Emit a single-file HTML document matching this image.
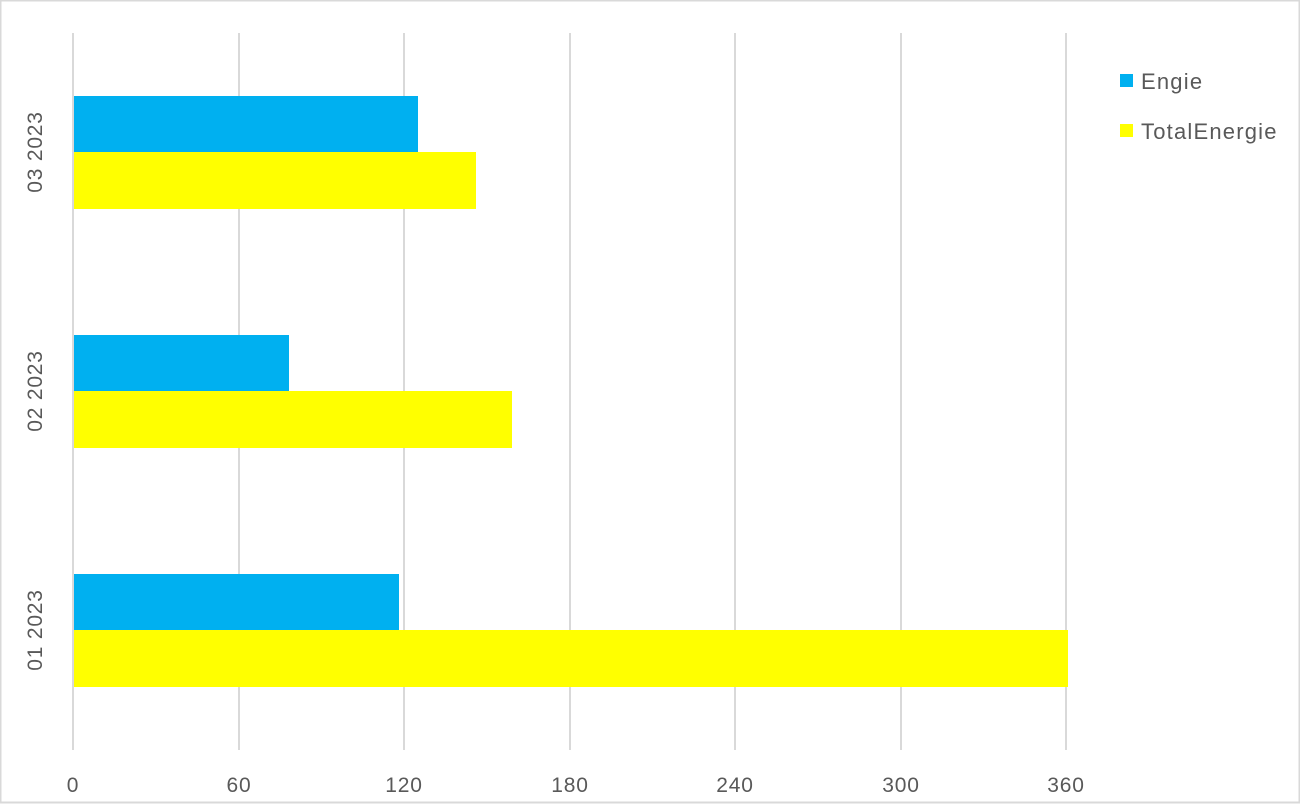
<!DOCTYPE html>
<html><head><style>body{margin:0;background:#fff}svg{display:block}text{font-family:"Liberation Sans",sans-serif;fill:#595959}</style></head><body>
<svg width="1300" height="804" viewBox="0 0 1300 804">
<rect x="0.5" y="0.5" width="1299" height="802" fill="#fff" stroke="#d9d9d9" stroke-width="2"/>
<g stroke="#d9d9d9" stroke-width="2">
<line x1="73" y1="33" x2="73" y2="750"/>
<line x1="239" y1="33" x2="239" y2="750"/>
<line x1="404" y1="33" x2="404" y2="750"/>
<line x1="570" y1="33" x2="570" y2="750"/>
<line x1="735" y1="33" x2="735" y2="750"/>
<line x1="901" y1="33" x2="901" y2="750"/>
<line x1="1066" y1="33" x2="1066" y2="750"/>
</g>
<g fill="#00b0f0">
<rect x="74" y="96" width="344" height="56"/>
<rect x="74" y="335" width="215" height="56"/>
<rect x="74" y="574" width="325" height="56"/>
</g>
<g fill="#ffff00">
<rect x="74" y="152" width="402" height="57"/>
<rect x="74" y="391" width="438" height="57"/>
<rect x="74" y="630" width="994" height="57"/>
</g>
<g font-size="21" text-anchor="middle" letter-spacing="0.8">
<text x="73" y="792">0</text><text x="239" y="792">60</text><text x="404" y="792">120</text>
<text x="570" y="792">180</text><text x="735" y="792">240</text><text x="901" y="792">300</text><text x="1066" y="792">360</text>
<text transform="translate(42,152) rotate(-90)">03 2023</text>
<text transform="translate(42,391) rotate(-90)">02 2023</text>
<text transform="translate(42,630) rotate(-90)">01 2023</text>
</g>
<rect x="1120" y="74" width="13" height="13" fill="#00b0f0"/>
<rect x="1120" y="124" width="13" height="13" fill="#ffff00"/>
<text x="1141" y="89" font-size="22" letter-spacing="1.2">Engie</text>
<text x="1141" y="139" font-size="22" letter-spacing="1.2">TotalEnergie</text>
</svg>
</body></html>
